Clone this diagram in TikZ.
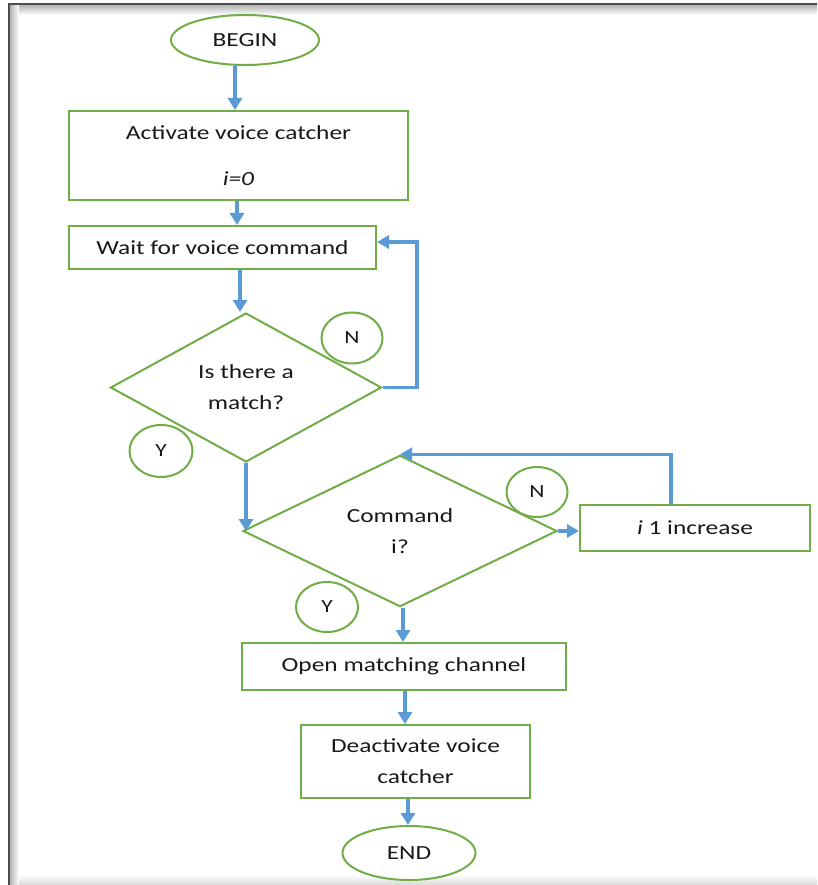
\documentclass[tikz,border=0pt]{standalone}
\usepackage{fontspec}
\setmainfont{Carlito}[FakeStretch=1.27]
\usetikzlibrary{shapes.geometric,arrows.meta}
\definecolor{fgreen}{RGB}{112,173,71}
\definecolor{fblue}{RGB}{91,155,213}
\definecolor{ftext}{RGB}{25,25,25}
\begin{document}
\begin{tikzpicture}[x=1pt,y=-1pt,
  every node/.style={text=ftext, font=\fontsize{20}{31}\selectfont},
  term/.style={ellipse, draw=fgreen, line width=2pt, inner sep=0pt, fill=white},
  procbox/.style={rectangle, draw=fgreen, line width=2pt, inner sep=0pt, align=center, fill=white},
  decide/.style={diamond, draw=fgreen, line width=2pt, inner sep=0pt, align=center},
  tag/.style={ellipse, draw=fgreen, line width=2pt, inner sep=0pt, font=\fontsize{18.5}{20}\selectfont},
  arr/.style={draw=fblue, line width=4.5pt, -{Triangle[length=12pt,width=14pt]}},
  arrthin/.style={draw=fblue, line width=3.5pt, line join=miter, -{Triangle[length=12pt,width=13pt]}}
]
\useasboundingbox (0,0) rectangle (817,885);
\fill[white] (0,0) rectangle (817,885);
% frame shadow
\shade[top color=gray!65, bottom color=white] (9,4) rectangle (817,15);
\shade[left color=gray!65, right color=white] (9,4) rectangle (19,885);
\shade[top color=white, bottom color=gray!30] (19,875) rectangle (817,885);
\draw[line width=1.5pt, draw=black!70] (817,4) -- (9,4) -- (9,885);

% nodes
\node[term, minimum width=148pt, minimum height=50pt] (begin) at (245,40) {BEGIN};
\node[procbox, minimum width=339pt, minimum height=89pt, font=\fontsize{20}{46}\selectfont] (act) at (238.5,155.5) {Activate voice catcher\\\textit{i=0}};
\node[procbox, minimum width=307pt, minimum height=43pt] (wait) at (222.5,247.5) {Wait for voice command};
\node[decide, minimum width=271pt, minimum height=149pt] (d1) at (246,387.5) {Is there a\\match?};
\node[decide, minimum width=314pt, minimum height=150pt] (d2) at (400,531) {Command\\i?};
\node[procbox, minimum width=230pt, minimum height=46pt] (inc) at (695,528) {\textit{i} 1 increase};
\node[procbox, minimum width=324pt, minimum height=47pt] (open) at (404,666.5) {Open matching channel};
\node[procbox, minimum width=229pt, minimum height=73pt] (deact) at (415.5,761.5) {Deactivate voice\\catcher};
\node[term, minimum width=133pt, minimum height=54pt] (end) at (409,853) {END};

\node[tag, minimum width=61pt, minimum height=51pt] (n1) at (352,338) {N};
\node[tag, minimum width=63pt, minimum height=52pt] (y1) at (161,451) {Y};
\node[tag, minimum width=61pt, minimum height=50pt] (n2) at (537,492) {N};
\node[tag, minimum width=62pt, minimum height=50pt] (y2) at (327,607) {Y};

% helper coordinates
\coordinate (c1) at (235,0);
\coordinate (c2) at (237,0);
\coordinate (c3) at (240,0);
\coordinate (lx) at (417,0);
\coordinate (c7) at (671,0);
\coordinate (c8) at (403,0);
\coordinate (c9) at (405,0);
\coordinate (c10) at (408,0);

% connectors
\draw[arr] (begin.south -| c1) -- (act.north -| c1);
\draw[arr] (act.south -| c2) -- (wait.north -| c2);
\draw[arr] (wait.south -| c3) -- (d1.north -| c3);
\draw[arrthin] (d1.east) -- (d1.east -| lx) |- ([yshift=5.5pt]wait.east);
\draw[arr] (d1.south) -- (d1.south |- d2.west);
\draw[arrthin] (d2.east) -- (d2.east -| inc.west);
\draw[arrthin] (inc.north -| c7) |- (d2.north);
\draw[arr] (d2.south -| c8) -- (open.north -| c8);
\draw[arr] (open.south -| c9) -- (deact.north -| c9);
\draw[arr] (deact.south -| c10) -- (end.north -| c10);
\end{tikzpicture}
\end{document}
